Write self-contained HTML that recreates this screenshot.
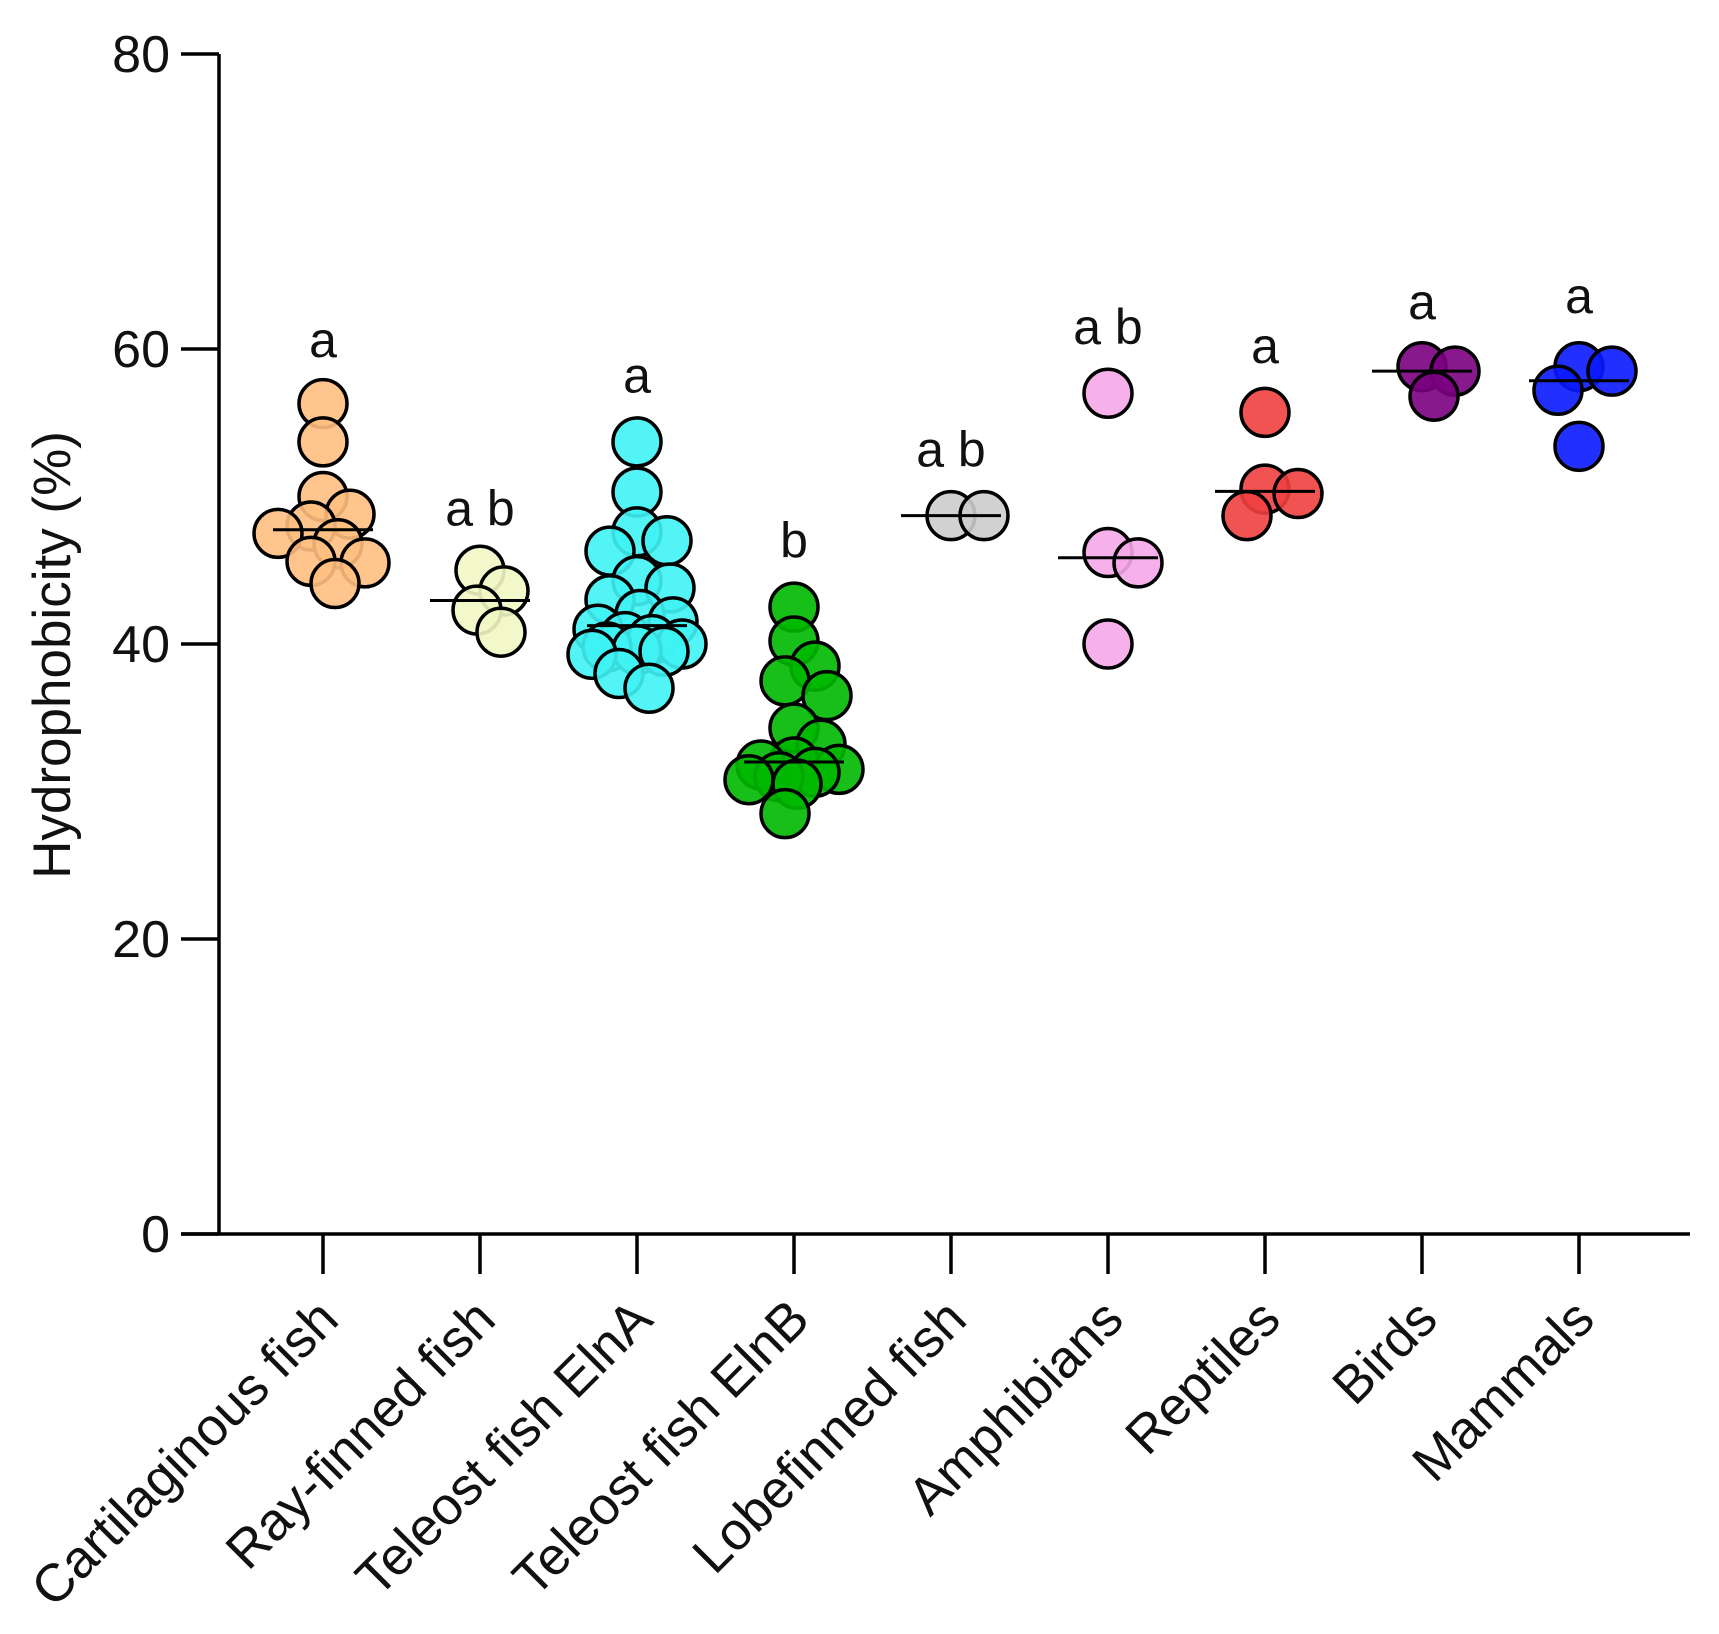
<!DOCTYPE html>
<html><head><meta charset="utf-8"><style>
html,body{margin:0;padding:0;background:#fff}
svg{display:block}
text{font-family:"Liberation Sans",Arial,sans-serif;fill:#111}
</style></head><body>
<svg id="chart" width="1719" height="1634" viewBox="0 0 1719 1634" xmlns="http://www.w3.org/2000/svg">
<g id="axes"></g>
<g id="marks"></g>
<g id="letters"></g>
<text transform="translate(70,655) rotate(-90)" text-anchor="middle" font-size="53">Hydrophobicity (%)</text>
</svg>
<script>
const categories=["Cartilaginous fish","Ray-finned fish","Teleost fish ElnA","Teleost fish ElnB","Lobefinned fish","Amphibians","Reptiles","Birds","Mammals"];
const colors=["#ffbf80","#f2f7c4","#3ff3f5","#00b800","#cccccc","#f5a8e8","#f04040","#7a007f","#0a1aff"];
const cartilaginous=[56.3,53.7,50,48.8,48,47.5,46.8,45.6,45.5,44.1];
const rayFinned=[45,43.6,42.3,40.8];
const teleostA=[53.7,50.3,47.6,47,46.3,44.3,43.8,43,42,41.5,41,40.5,40.3,40,39.8,39.6,39.5,39.3,38,37];
const teleostB=[42.5,40.2,38.5,37.5,36.5,34.3,33.2,32,31.8,31.5,31.3,31,30.8,30.5,28.5];
const lobefinned=[48.7,48.7];
const amphibians=[57,46.2,45.5,40];
const reptiles=[55.7,50.5,50.2,48.7];
const birds=[58.8,58.5,56.8];
const mammals=[58.8,58.5,57.2,53.4];
const series=[cartilaginous,rayFinned,teleostA,teleostB,lobefinned,amphibians,reptiles,birds,mammals];
const letterLabels=["a","a b","a","b","a b","a b","a","a","a"];
const letterValues=[60.4,49,58,46.8,53,61.3,60,63,63.4];
const yTicks=[0,20,40,60,80];

const NS="http://www.w3.org/2000/svg";
const x0=219,yTop=54,yBot=1234,xEnd=1690,firstCat=323,catStep=157,R=24;
function yScale(v){return yBot-(v/80)*(yBot-yTop);}
function xScale(i){return firstCat+i*catStep;}
function mk(tag,attrs,parent){const e=document.createElementNS(NS,tag);for(const k in attrs)e.setAttribute(k,attrs[k]);parent.appendChild(e);return e;}
const axes=document.getElementById('axes'),marks=document.getElementById('marks'),letters=document.getElementById('letters');

let yl=mk('line',{x1:x0,y1:yTop,x2:x0,y2:yBot,stroke:'#000','stroke-width':3.5},axes);


let xl=mk('line',{x1:181,y1:yBot,x2:xEnd,y2:yBot,stroke:'#000','stroke-width':3.5},axes);


yTicks.forEach(t=>{
  const y=yScale(t);
  const tk=mk('line',{x1:181,y1:y,x2:x0,y2:y,stroke:'#000','stroke-width':3.5},axes);
  
  
  const tx=mk('text',{x:170,y:y+18,'text-anchor':'end','font-size':52},axes);
  tx.textContent=t;
  
  
});
categories.forEach((c,i)=>{
  const x=xScale(i);
  const tk=mk('line',{x1:x,y1:yBot,x2:x,y2:1274,stroke:'#000','stroke-width':3.5},axes);
  
  
  const tx=mk('text',{transform:`translate(${x+18},1322) rotate(-45)`,'text-anchor':'end','font-size':53},axes);
  tx.textContent=c;
  
  
});

series.forEach((vals,i)=>{
  const cx=xScale(i);
  const placed=[];
  const sorted=[...vals].sort((a,b)=>b-a);
  const g=mk('g',{},marks);
  
  
  sorted.forEach(v=>{
    const y=yScale(v);
    const minD=R*1.3,maxOff=R*1.9;
    let best=cx,bestD=-1;
    for(let k=0;k<40;k++){
      const off=(k===0?0:Math.ceil(k/2)*(k%2?1:-1)*3);
      if(Math.abs(off)>maxOff)break;
      const tx=cx+off;
      const d=placed.length?Math.min(...placed.map(p=>Math.hypot(p[0]-tx,p[1]-y))):1e9;
      if(d>=minD){best=tx;break;}
      if(d>bestD){bestD=d;best=tx;}
    }
    placed.push([best,y]);
    const c=mk('circle',{cx:best,cy:y,r:R,fill:colors[i],'fill-opacity':0.9,stroke:'#000','stroke-width':3.5},g);
    
    
  });
  const s=[...vals].sort((a,b)=>a-b);const n=s.length;
  const med=n%2?s[(n-1)/2]:(s[n/2-1]+s[n/2])/2;
  const ml=mk('line',{x1:cx-50,y1:yScale(med),x2:cx+50,y2:yScale(med),stroke:'#000','stroke-width':3},g);
  
  
  const lt=mk('text',{x:cx,y:yScale(letterValues[i])+14,'text-anchor':'middle','font-size':50},letters);
  lt.textContent=letterLabels[i];
  
  
});
</script>
</body></html>
